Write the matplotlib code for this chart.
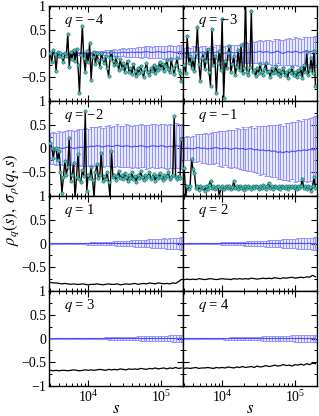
import matplotlib
matplotlib.use('Agg')
import matplotlib.pyplot as plt
from matplotlib.ticker import LogLocator, MultipleLocator, FixedLocator, FuncFormatter, NullFormatter

plt.rcParams['font.family'] = ['Liberation Serif', 'DejaVu Serif']
plt.rcParams['mathtext.fontset'] = 'stix'

# ---------------- data ----------------
s_fine = [3020, 3162, 3311, 3467, 3631, 3802, 3981, 4169, 4365, 4571,
          4786, 5012, 5248, 5495, 5754, 6026, 6310, 6607, 6918, 7244,
          7586, 7943, 8318, 8710, 9120, 9550, 10000, 10471, 10965, 11482,
          12023, 12589, 13183, 13804, 14454, 15136, 15849, 16596, 17378, 18197,
          19055, 19953, 20893, 21878, 22909, 23988, 25119, 26303, 27542, 28840,
          30200, 31623, 33113, 34674, 36308, 38019, 39811, 41687, 43652, 45709,
          47863, 50119, 52481, 54954, 57544, 60256, 63096, 66069, 69183, 72444,
          75858, 79433, 83176, 87096, 91201, 95499, 100000, 104713, 109648, 114815,
          120226, 125893, 131826, 138038, 144544, 151356, 158489, 165959, 173780, 181970,
          190546]
s_coarse = s_fine[::2]

q_labels = ['\u22124', '\u22123', '\u22122', '\u22121', '1', '2', '3', '4']

rho_m4 = [0.00, -0.18, 0.08, -0.02, -0.36, 0.03, -0.05, 0.02, -0.08, -0.18,
          0.01, -0.06, 0.42, -0.28, 0.04, -0.12, 0.08, -0.15, 0.10, -0.25,
          -0.83, -0.04, 0.58, -0.10, -0.38, 0.05, -0.18, 0.22, -0.55, -0.08,
          0.04, -0.22, 0.00, -0.14, -0.28, 0.02, -0.12, -0.20, -0.06, -0.30,
          -0.47, -0.10, 0.04, -0.16, -0.25, -0.08, -0.22, -0.34, -0.12, -0.30,
          -0.20, -0.38, -0.26, -0.15, -0.40, -0.30, -0.44, -0.22, -0.36, -0.48,
          -0.30, -0.42, -0.26, -0.38, -0.50, -0.32, -0.20, -0.40, -0.46, -0.30,
          -0.36, -0.24, -0.42, -0.28, -0.34, -0.18, -0.30, -0.22, -0.36, -0.26,
          -0.14, -0.32, -0.40, -0.12, -0.30, -0.44, -0.24, -0.10, -0.34, -0.42,
          -0.58]
rho_m3 = [-0.25, -0.42, 0.37, -0.20, -0.05, -0.30, -0.12, -0.36, 0.02, 0.56,
          -0.22, -0.57, -0.10, 0.00, -0.32, -0.15, 0.10, -0.40, -0.68, 0.52,
          -0.25, -0.05, -0.84, -0.20, 0.05, -0.35, 0.72, -0.93, -0.15, -0.30,
          0.02, 0.16, -0.40, -0.22, -0.05, -0.45, -0.28, 0.08, -0.35, 0.17,
          -0.42, -0.30, 1.15, -0.38, -0.45, -0.28, 0.90, -0.40, -0.35, -0.48,
          -0.30, -0.42, -0.22, -0.38, -0.46, -0.32, -0.20, -0.40, -0.36, -0.50,
          -0.30, -0.42, -0.38, -0.26, -0.44, -0.34, -0.48, -0.40, -0.30, -0.45,
          -0.38, -0.52, -0.35, -0.42, -0.28, -0.46, -0.40, -0.50, -0.34, -0.44,
          -0.30, -0.52, -0.25, -0.40, 0.03, -0.45, -0.35, -0.10, -0.42, 0.06,
          -0.68]
rho_m2 = [0.12, 0.02, -0.19, -0.02, 0.00, -0.25, -0.05, -0.50, -0.93, -0.61,
          -0.26, -0.55, -0.40, 0.23, -0.68, -0.55, -0.30, -1.05, -0.60, -0.12,
          -0.65, -0.70, -0.45, -0.58, 0.79, -0.90, -0.55, -0.62, -0.40, -0.66,
          -1.02, -0.50, -0.33, -0.62, -0.55, -0.09, -0.68, -0.58, -0.64, -0.50,
          -0.70, -1.05, -0.05, -0.60, -0.55, -0.66, -0.58, -0.48, -0.62, -0.56,
          -0.65, -0.52, -0.60, -0.68, -0.55, -0.62, -0.50, -0.64, -0.58, -0.70,
          -0.56, -0.62, -0.48, -0.60, -0.66, -0.55, -0.62, -0.58, -0.50, -0.64,
          -0.60, -0.54, -0.68, -0.58, -0.62, -0.52, -0.60, -0.66, -0.56, -0.62,
          -0.58, -0.50, -0.64, -0.60, -0.55, 0.68, -0.60, -0.65, -0.58, -0.62,
          0.19]
rho_m1 = [-0.42, -1.02, -0.80, -0.86, -0.78, -0.23, -0.44, -0.52, -0.84, -0.80,
          -0.88, -0.78, -0.84, -0.82, -0.90, -0.80, -0.85, -0.76, -0.68, -0.84,
          -0.80, -0.86, -0.82, -0.78, -1.00, -0.84, -0.80, -0.86, -0.82, -0.78,
          -0.84, -0.80, -0.86, -0.82, -0.68, -0.84, -0.80, -0.86, -0.78, -0.84,
          -0.82, -0.88, -0.80, -0.84, -0.78, -0.82, -0.86, -0.80, -0.84, -0.78,
          -0.82, -0.86, -0.80, -0.84, -0.76, -0.82, -0.86, -0.80, -0.72, -0.84,
          -0.80, -0.86, -0.78, -0.82, -0.84, -0.80, -0.86, -0.78, -0.82, -0.84,
          -0.80, -0.86, -0.78, -0.82, -0.80, -0.84, -0.78, -0.86, -0.80, -0.84,
          -0.78, -0.65, -0.84, -0.80, -0.86, -0.78, -0.82, -0.90, -0.80, -0.61,
          -0.84]
rho_p1 = [-0.82, -0.83, -0.83, -0.84, -0.85, -0.84, -0.85, -0.86, -0.85, -0.86,
          -0.86, -0.85, -0.86, -0.87, -0.86, -0.86, -0.85, -0.86, -0.87, -0.86,
          -0.85, -0.86, -0.86, -0.85, -0.87, -0.86, -0.85, -0.86, -0.85, -0.84,
          -0.86, -0.85, -0.84, -0.85, -0.83, -0.84, -0.85, -0.83, -0.84, -0.85,
          -0.84, -0.85, -0.83, -0.84, -0.80, -0.76]
rho_p2 = [-0.76, -0.75, -0.76, -0.75, -0.76, -0.74, -0.75, -0.76, -0.75, -0.74,
          -0.75, -0.76, -0.75, -0.74, -0.75, -0.75, -0.76, -0.74, -0.75, -0.74,
          -0.75, -0.74, -0.75, -0.73, -0.74, -0.75, -0.74, -0.73, -0.74, -0.73,
          -0.74, -0.72, -0.73, -0.74, -0.72, -0.73, -0.72, -0.71, -0.73, -0.72,
          -0.71, -0.72, -0.70, -0.71, -0.67, -0.70]
rho_p3 = [-0.67, -0.68, -0.67, -0.68, -0.67, -0.67, -0.68, -0.67, -0.66, -0.67,
          -0.68, -0.67, -0.66, -0.67, -0.66, -0.67, -0.66, -0.65, -0.66, -0.67,
          -0.65, -0.66, -0.65, -0.66, -0.64, -0.65, -0.66, -0.64, -0.65, -0.64,
          -0.65, -0.63, -0.64, -0.65, -0.63, -0.64, -0.62, -0.64, -0.63, -0.62,
          -0.64, -0.62, -0.63, -0.61, -0.63, -0.62]
rho_p4 = [-0.63, -0.62, -0.63, -0.62, -0.61, -0.63, -0.62, -0.62, -0.61, -0.62,
          -0.63, -0.61, -0.62, -0.61, -0.62, -0.60, -0.61, -0.62, -0.60, -0.61,
          -0.59, -0.61, -0.60, -0.59, -0.61, -0.58, -0.60, -0.59, -0.57, -0.59,
          -0.58, -0.56, -0.58, -0.57, -0.55, -0.57, -0.56, -0.58, -0.55, -0.56,
          -0.54, -0.56, -0.53, -0.55, -0.52, -0.53]

mean_m4 = [0.0, 0.0, 0.0, 0.0, 0.0, 0.0, 0.0, 0.0, 0.0, 0.0,
           0.0, 0.01, 0.0, 0.01, 0.0, 0.01, 0.01, 0.0, 0.01, 0.02,
           0.01, 0.02, 0.02, 0.01, 0.02, 0.03, 0.02, 0.02, 0.03, 0.02,
           0.03, 0.02, 0.03, 0.04, 0.03, 0.02, 0.03, 0.04, 0.03, 0.02,
           0.03, 0.04, 0.03, 0.02, 0.03, 0.04]
err_m4 = [0.010, 0.012, 0.013, 0.012, 0.015, 0.016, 0.018, 0.017, 0.020, 0.022,
          0.024, 0.025, 0.028, 0.030, 0.032, 0.035, 0.040, 0.042, 0.046, 0.050,
          0.055, 0.060, 0.066, 0.070, 0.075, 0.080, 0.085, 0.090, 0.095, 0.100,
          0.104, 0.108, 0.110, 0.115, 0.118, 0.120, 0.124, 0.126, 0.130, 0.128,
          0.132, 0.135, 0.130, 0.138, 0.140, 0.142]
mean_m3 = [0.02, 0.02, 0.01, 0.03, 0.02, 0.01, 0.03, 0.02, 0.0, 0.02,
           0.01, 0.03, 0.02, 0.0, 0.01, 0.02, 0.03, 0.01, 0.02, 0.0,
           0.02, 0.03, 0.01, 0.04, 0.02, 0.03, 0.05, 0.02, 0.04, 0.03,
           0.01, 0.03, 0.05, 0.02, 0.0, 0.03, 0.04, 0.02, 0.05, 0.03,
           0.01, 0.04, 0.06, 0.03, 0.05, 0.04]
err_m3 = [0.10, 0.11, 0.10, 0.12, 0.11, 0.12, 0.12, 0.13, 0.12, 0.14,
          0.13, 0.14, 0.15, 0.14, 0.15, 0.16, 0.15, 0.17, 0.16, 0.18,
          0.20, 0.22, 0.21, 0.23, 0.22, 0.24, 0.23, 0.25, 0.24, 0.26,
          0.25, 0.27, 0.26, 0.27, 0.28, 0.27, 0.29, 0.28, 0.30, 0.29,
          0.30, 0.31, 0.29, 0.31, 0.30, 0.32]
mean_m2 = [0.0, 0.01, -0.01, 0.02, 0.0, 0.01, 0.03, 0.02, 0.0, 0.01,
           0.03, 0.02, 0.04, 0.03, 0.05, 0.04, 0.06, 0.05, 0.03, 0.05,
           0.06, 0.04, 0.05, 0.07, 0.05, 0.04, 0.06, 0.05, 0.03, 0.05,
           0.04, 0.06, 0.05, 0.03, 0.04, 0.06, 0.05, 0.04, 0.06, 0.05,
           0.03, 0.05, 0.04, 0.06, 0.05, 0.04]
err_m2 = [0.33, 0.34, 0.33, 0.35, 0.34, 0.36, 0.35, 0.37, 0.36, 0.38,
          0.37, 0.38, 0.40, 0.39, 0.40, 0.41, 0.40, 0.42, 0.41, 0.42,
          0.43, 0.42, 0.43, 0.44, 0.43, 0.44, 0.45, 0.44, 0.45, 0.44,
          0.45, 0.46, 0.45, 0.46, 0.45, 0.46, 0.47, 0.46, 0.45, 0.47,
          0.46, 0.47, 0.46, 0.48, 0.47, 0.48]
mean_m1 = [0.0, 0.01, 0.0, -0.01, 0.01, 0.02, 0.0, 0.01, -0.01, 0.0,
           0.01, 0.02, 0.0, -0.01, 0.01, 0.0, -0.02, 0.0, 0.01, -0.01,
           0.0, -0.02, -0.01, 0.0, -0.03, -0.02, -0.04, -0.03, -0.05, -0.04,
           -0.06, -0.05, -0.08, -0.07, -0.09, -0.06, -0.08, -0.05, -0.07, -0.04,
           -0.05, -0.03, -0.04, -0.02, -0.03, -0.02]
err_m1 = [0.24, 0.26, 0.25, 0.27, 0.29, 0.28, 0.30, 0.32, 0.31, 0.33,
          0.34, 0.33, 0.36, 0.37, 0.36, 0.39, 0.40, 0.39, 0.42, 0.43,
          0.45, 0.44, 0.47, 0.48, 0.47, 0.50, 0.51, 0.50, 0.53, 0.54,
          0.55, 0.54, 0.57, 0.58, 0.57, 0.60, 0.61, 0.60, 0.63, 0.64,
          0.63, 0.66, 0.67, 0.66, 0.69, 0.70]
mean_p1 = [0.0, 0.001, 0.0, -0.001, 0.0, 0.001, 0.0, 0.0, -0.001, 0.0,
           0.001, 0.0, 0.0, -0.001, 0.0, 0.002, 0.0, -0.002, 0.0, 0.001,
           0.0, -0.001, 0.002, 0.0, -0.002, 0.001, 0.0, -0.003, 0.002, 0.0,
           -0.002, 0.003, 0.0, -0.003, 0.002, 0.0, 0.003, -0.002, 0.0, 0.004,
           -0.003, 0.0, 0.004, -0.002, 0.003, 0.0]
err_p1 = [0.004, 0.005, 0.006, 0.007, 0.008, 0.009, 0.010, 0.012, 0.013, 0.015,
          0.016, 0.018, 0.020, 0.022, 0.024, 0.026, 0.028, 0.030, 0.033, 0.036,
          0.038, 0.041, 0.044, 0.047, 0.050, 0.053, 0.056, 0.060, 0.063, 0.066,
          0.070, 0.073, 0.077, 0.080, 0.084, 0.088, 0.092, 0.095, 0.099, 0.103,
          0.107, 0.111, 0.115, 0.119, 0.123, 0.128]
mean_p2 = [0.0, 0.0, 0.001, 0.0, -0.001, 0.0, 0.001, 0.0, 0.0, -0.001,
           0.0, 0.001, 0.0, 0.0, -0.001, 0.0, 0.002, 0.0, -0.001, 0.0,
           0.002, -0.001, 0.0, 0.001, -0.002, 0.0, 0.002, 0.0, -0.002, 0.001,
           0.0, -0.003, 0.002, 0.0, -0.002, 0.003, 0.0, -0.003, 0.002, 0.0,
           0.003, -0.002, 0.0, 0.003, -0.003, 0.0]
err_p2 = [0.005, 0.006, 0.006, 0.007, 0.008, 0.010, 0.011, 0.012, 0.014, 0.015,
          0.017, 0.019, 0.021, 0.023, 0.025, 0.027, 0.029, 0.032, 0.034, 0.037,
          0.040, 0.043, 0.046, 0.049, 0.052, 0.055, 0.058, 0.062, 0.065, 0.069,
          0.072, 0.076, 0.079, 0.083, 0.087, 0.091, 0.094, 0.098, 0.102, 0.106,
          0.110, 0.114, 0.118, 0.122, 0.126, 0.130]
mean_p3 = [0.0, 0.0, 0.0, 0.001, 0.0, 0.0, -0.001, 0.0, 0.0, 0.001,
           0.0, 0.0, -0.001, 0.0, 0.001, 0.0, 0.0, -0.001, 0.0, 0.001,
           0.0, -0.001, 0.0, 0.001, 0.0, -0.002, 0.0, 0.001, 0.0, -0.001,
           0.002, 0.0, -0.002, 0.001, 0.0, 0.002, -0.001, 0.0, 0.002, -0.002,
           0.0, 0.002, -0.001, 0.0, 0.002, 0.0]
err_p3 = [0.004, 0.004, 0.005, 0.005, 0.006, 0.006, 0.007, 0.008, 0.008, 0.009,
          0.010, 0.011, 0.012, 0.013, 0.014, 0.015, 0.016, 0.018, 0.019, 0.021,
          0.022, 0.024, 0.026, 0.027, 0.029, 0.031, 0.033, 0.035, 0.037, 0.039,
          0.041, 0.043, 0.045, 0.047, 0.049, 0.051, 0.053, 0.055, 0.057, 0.059,
          0.061, 0.063, 0.065, 0.067, 0.069, 0.071]
mean_p4 = [0.0, 0.001, 0.0, 0.0, -0.001, 0.0, 0.0, 0.001, 0.0, 0.0,
           -0.001, 0.0, 0.001, 0.0, 0.0, -0.001, 0.0, 0.001, 0.0, -0.001,
           0.0, 0.001, 0.0, -0.001, 0.002, 0.0, -0.001, 0.0, 0.002, -0.001,
           0.0, 0.002, -0.002, 0.0, 0.001, -0.002, 0.0, 0.002, -0.001, 0.0,
           0.002, -0.002, 0.0, 0.002, -0.001, 0.0]
err_p4 = [0.010, 0.011, 0.011, 0.012, 0.012, 0.013, 0.014, 0.014, 0.015, 0.016,
          0.017, 0.018, 0.019, 0.020, 0.021, 0.022, 0.024, 0.025, 0.027, 0.028,
          0.030, 0.032, 0.033, 0.035, 0.037, 0.039, 0.041, 0.043, 0.045, 0.047,
          0.049, 0.051, 0.053, 0.055, 0.057, 0.059, 0.061, 0.063, 0.065, 0.067,
          0.069, 0.071, 0.073, 0.075, 0.077, 0.079]

rho_all = [rho_m4, rho_m3, rho_m2, rho_m1, rho_p1, rho_p2, rho_p3, rho_p4]
mean_all = [mean_m4, mean_m3, mean_m2, mean_m1, mean_p1, mean_p2, mean_p3, mean_p4]
err_all = [err_m4, err_m3, err_m2, err_m1, err_p1, err_p2, err_p3, err_p4]

y_ticks = [-1, -0.5, 0, 0.5, 1]

# ---------------- figure ----------------
fig, axes = plt.subplots(4, 2, figsize=(3.19, 4.16), dpi=100)
fig.subplots_adjust(left=0.1536, right=0.9937, top=0.9856, bottom=0.0721,
                    hspace=0, wspace=0)


def yfmt_factory(hide_bottom):
    def f(v, pos):
        if hide_bottom and abs(v + 1) < 1e-9:
            return ''
        if abs(v) < 1e-9:
            return '0'
        t = ('%g' % v)
        return t.replace('-', '\u2212')
    return f


for k, ax in enumerate(axes.flat):
    row, col = divmod(k, 2)
    rho = rho_all[k]
    ax.errorbar(s_coarse, mean_all[k], yerr=err_all[k], fmt='-', color='#4a4aff',
                lw=0.8, ecolor='#9494ff', elinewidth=1.0, capsize=1.5,
                capthick=0.7, zorder=2)
    if len(rho) == len(s_fine):
        ax.plot(s_fine, rho, '-', color='black', lw=1.0, marker='o', ms=2.4,
                mfc='#3fc4b4', mec='#1c5050', mew=0.35, zorder=3)
    else:
        ax.plot(s_coarse, rho, '-', color='black', lw=0.9, zorder=3)

    ax.set_xscale('log')
    ax.set_xlim(2900, 2.0e5)
    ax.set_ylim(-1, 1)
    ax.xaxis.set_major_locator(LogLocator(base=10))
    ax.xaxis.set_minor_locator(LogLocator(base=10, subs=[2, 3, 4, 5, 6, 7, 8, 9]))
    ax.xaxis.set_minor_formatter(NullFormatter())
    ax.yaxis.set_major_locator(FixedLocator(y_ticks))
    ax.yaxis.set_minor_locator(MultipleLocator(0.25))
    ax.yaxis.set_major_formatter(FuncFormatter(yfmt_factory(row < 3)))

    ax.tick_params(which='both', direction='in', top=True, right=True,
                   labelsize=10, pad=2)
    ax.tick_params(which='major', length=4.5, width=0.8)
    ax.tick_params(which='minor', length=2.5, width=0.7)
    ax.tick_params(labelleft=(col == 0), labelbottom=(row == 3))
    for sp in ax.spines.values():
        sp.set_linewidth(1.0)

    ax.text(0.11, 0.85, '$q$ = ' + q_labels[k], transform=ax.transAxes,
            fontsize=10.5, va='center', ha='left', zorder=5)

    if row == 3:
        ax.set_xlabel('$s$', fontsize=12, labelpad=-3)

fig.text(0.035, 0.52, r'$\rho_q(s),\ \sigma_\rho(q,s)$', rotation=90,
         va='center', ha='center', fontsize=12)

fig.savefig('out.png', dpi=100)
